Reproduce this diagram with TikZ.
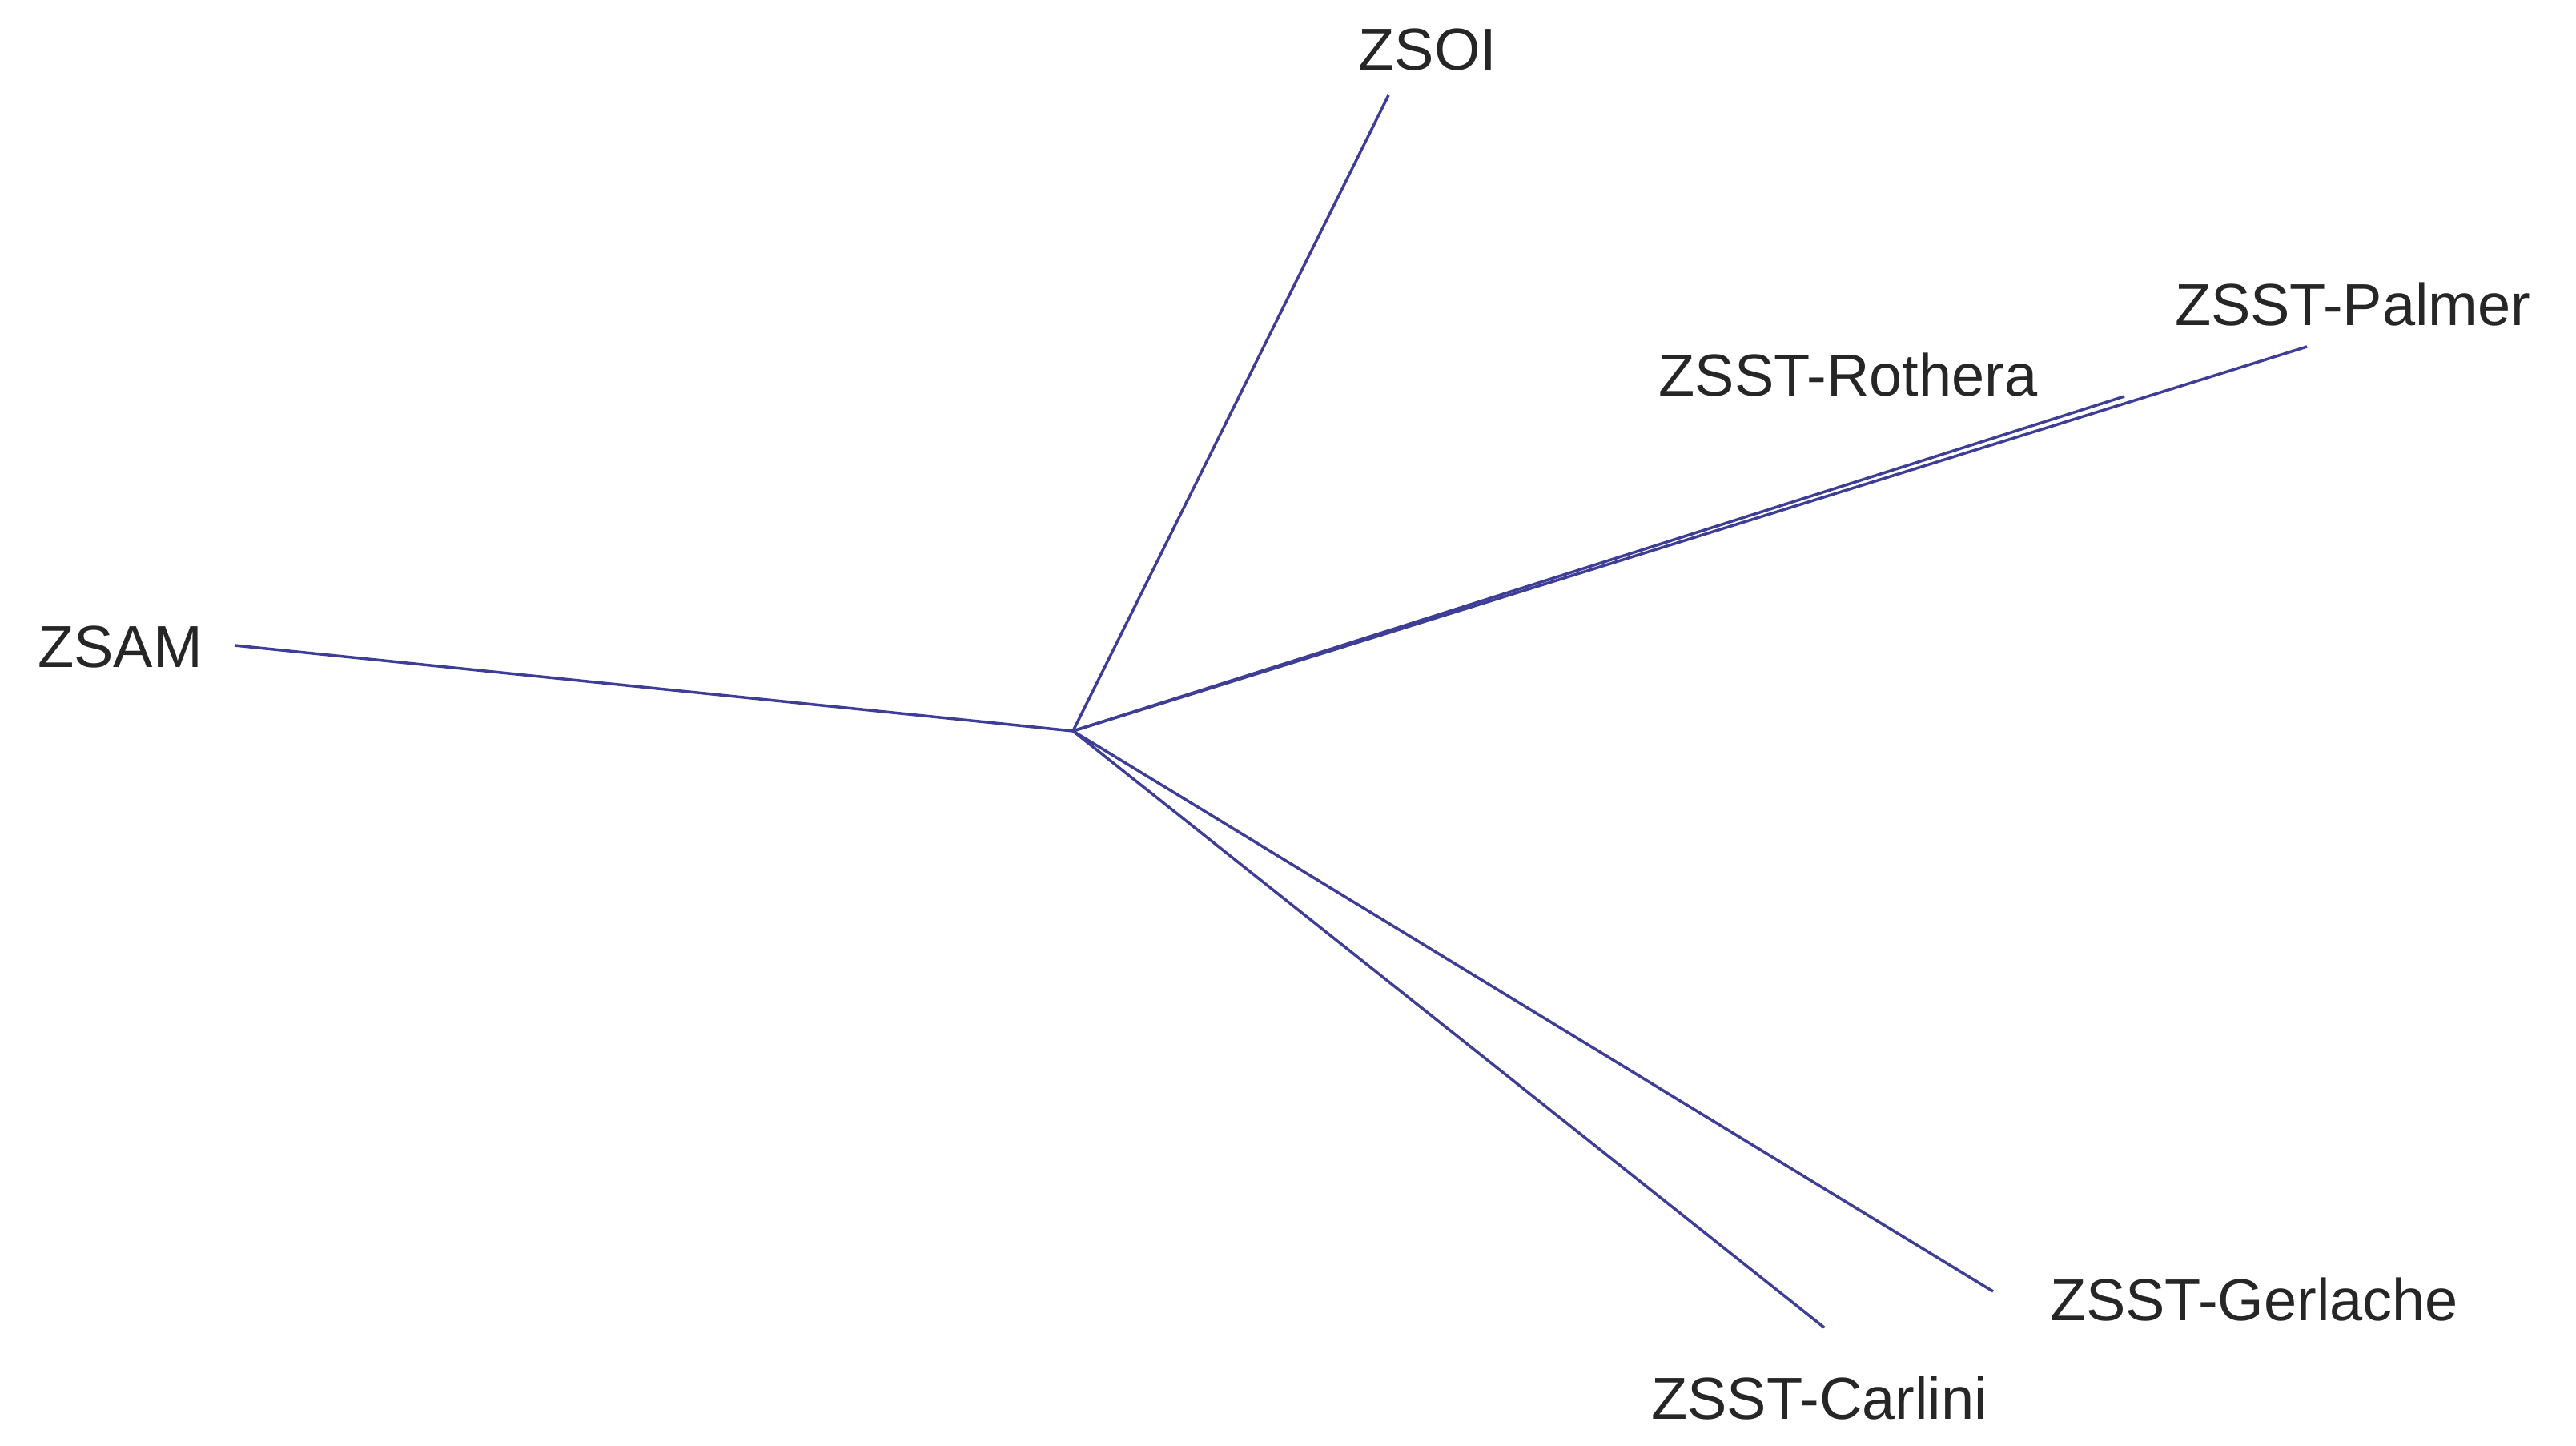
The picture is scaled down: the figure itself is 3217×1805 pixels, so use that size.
\documentclass[tikz,border=0pt]{standalone}
\usepackage{fontspec}
\setmainfont{Liberation Sans}
\definecolor{branch}{RGB}{62,62,150}
\tikzset{br/.style={draw=branch,line width=3.5pt},lab/.style={font=\fontsize{74}{80}\selectfont,inner sep=0pt,text=black!85}}
\begin{document}
\begin{tikzpicture}[x=1pt,y=-1pt]
\useasboundingbox (0,0) rectangle (3217,1805);
\coordinate (c) at (1340,913);
\coordinate (soi) at (1734,119);
\coordinate (sam) at (293,806);
\coordinate (rot) at (2653,495);
\coordinate (pal) at (2881,433);
\coordinate (ger) at (2489,1613);
\coordinate (car) at (2278,1658);
\node[lab] (lsoi) at (1783,62) {ZSOI};
\node[lab] (lpal) at (2938,380) {ZSST-Palmer};
\node[lab] (lrot) at (2308,468) {ZSST-Rothera};
\node[lab] (lsam) at (150,808) {ZSAM};
\node[lab] (lger) at (2815,1623) {ZSST-Gerlache};
\node[lab] (lcar) at (2272,1746) {ZSST-Carlini};
\draw[br] (c) -- (soi);
\draw[br] (c) -- (sam);
\draw[br] (c) -- (rot);
\draw[br] (c) -- (pal);
\draw[br] (c) -- (ger);
\draw[br] (c) -- (car);
\end{tikzpicture}
\end{document}
